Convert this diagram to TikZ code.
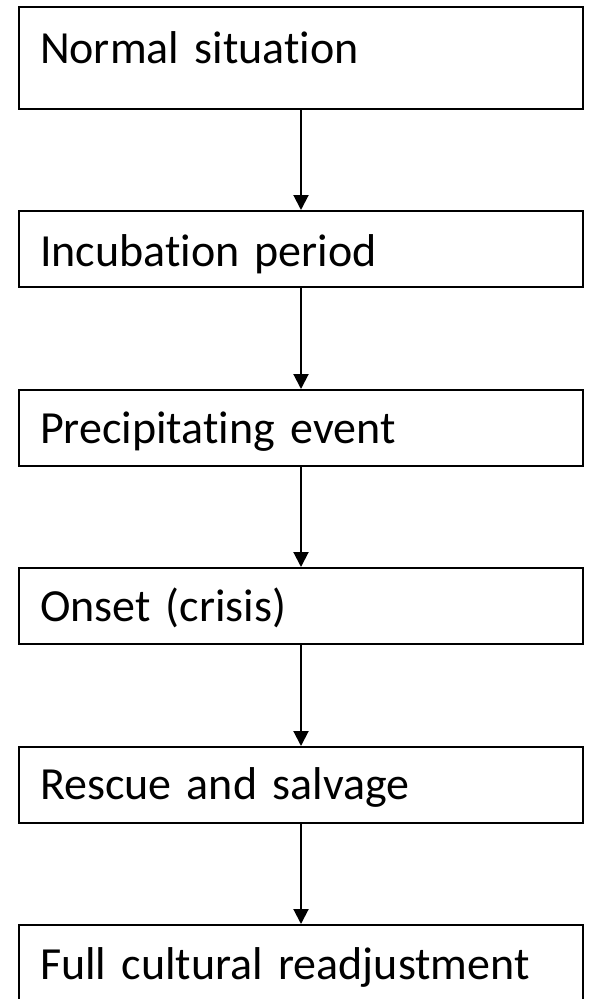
\documentclass[tikz,border=0pt]{standalone}
\usepackage{fontspec}
\setmainfont[Ligatures=NoCommon]{Carlito}
\usetikzlibrary{arrows.meta}
\begin{document}
\begin{tikzpicture}[x=1pt,y=-1pt,
  stagebox/.style={draw=black, line width=2pt, anchor=north, inner xsep=21pt, inner ysep=0pt,
    text width=522pt, align=left, font=\fontsize{46}{55}\selectfont,
    text height=53pt, text depth=23pt},
  flowarrow/.style={line width=2pt, -{Triangle[length=15pt,width=15pt]}}]
\useasboundingbox (0,0) rectangle (590,999);
\node[stagebox, text height=56pt, text depth=46pt] (n1) at (301,6) {Normal situation};
\node[stagebox, text height=55pt, text depth=21pt] (n2) at (301,210) {Incubation period};
\node[stagebox] (n3) at (301,389) {Precipitating event};
\node[stagebox] (n4) at (301,567) {Onset (crisis)};
\node[stagebox, text height=52pt, text depth=24pt] (n5) at (301,746) {Rescue and salvage};
\node[stagebox, text height=54pt, text depth=24pt] (n6) at (301,924) {Full cultural readjustment};
\draw[flowarrow] (n1.south) -- (n2.north);
\draw[flowarrow] (n2.south) -- (n3.north);
\draw[flowarrow] (n3.south) -- (n4.north);
\draw[flowarrow] (n4.south) -- (n5.north);
\draw[flowarrow] (n5.south) -- (n6.north);
\end{tikzpicture}
\end{document}
